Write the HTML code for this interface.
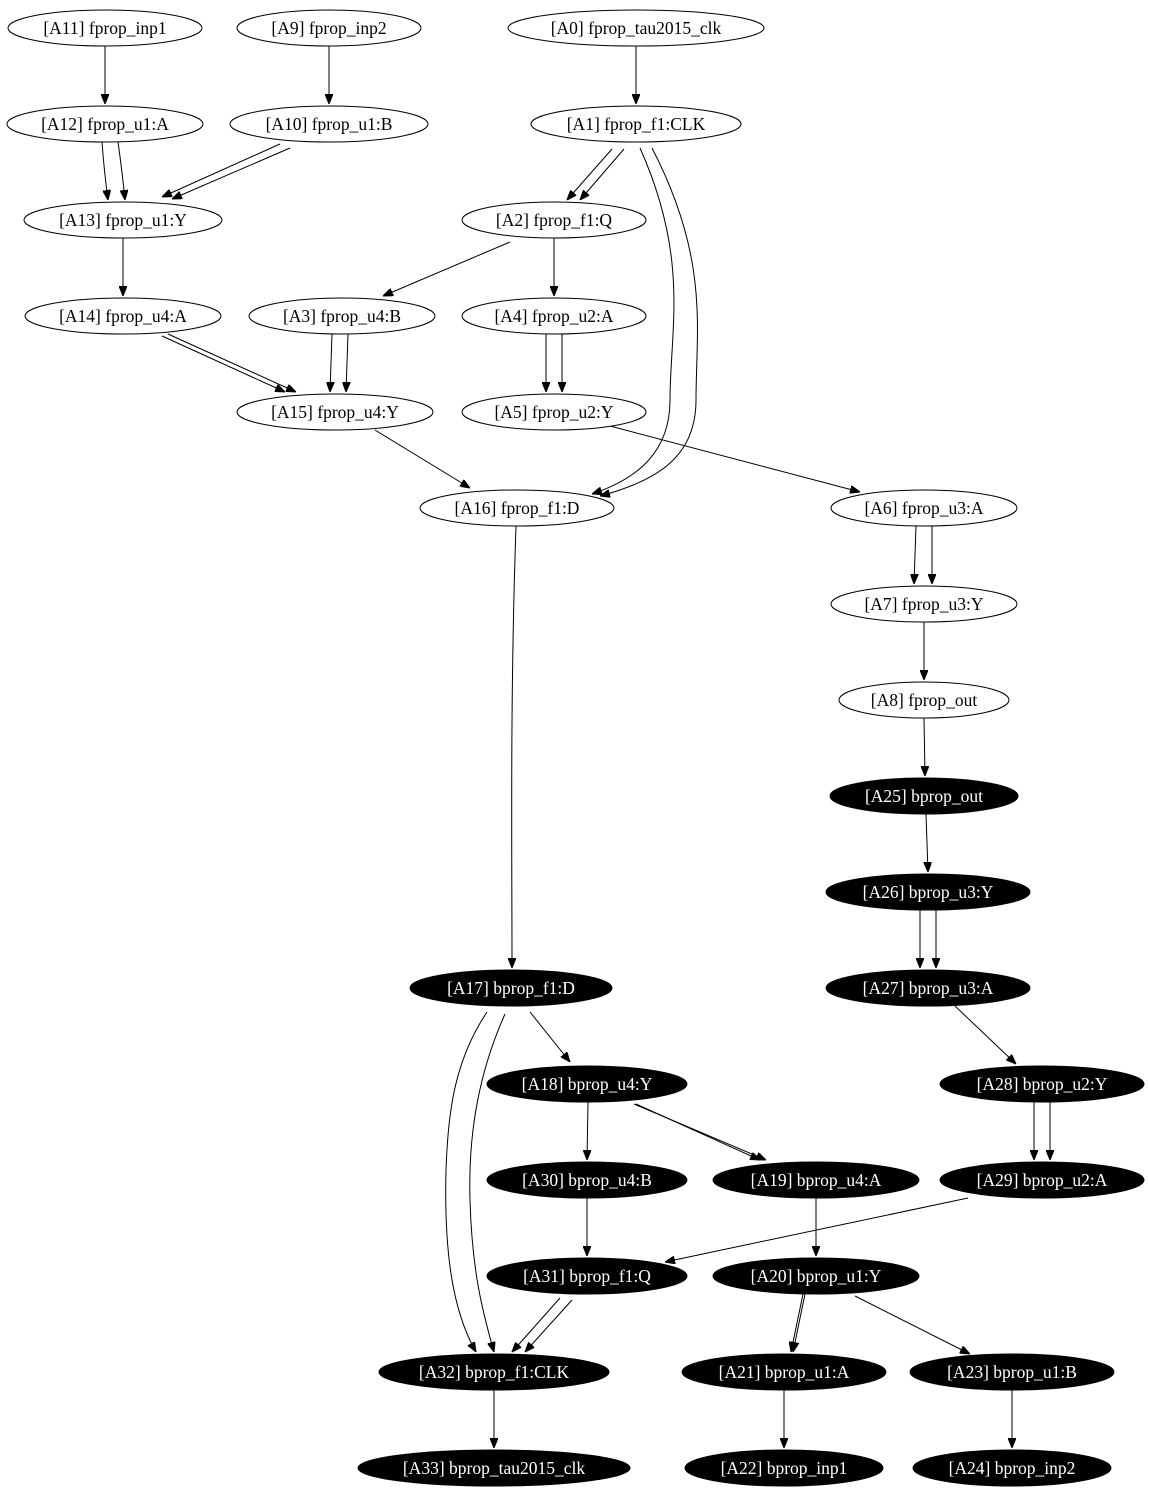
<!DOCTYPE html>
<html><head><meta charset="utf-8"><style>
html,body{margin:0;padding:0;background:#fff;}
svg{display:block;}
text{font-family:"Liberation Serif",serif;font-size:17.5px;text-anchor:middle;}
.w ellipse{fill:#fff;stroke:#000;stroke-width:1;}
.b ellipse{fill:#000;stroke:#000;}
.b text{fill:#fff;}
path{fill:none;stroke:#000;stroke-width:1;}
</style></head><body>
<svg width="1149" height="1499" viewBox="0 0 1149 1499">
<defs><marker id="a" markerWidth="10" markerHeight="8" refX="10" refY="4" orient="auto" markerUnits="userSpaceOnUse"><path d="M0,0 L10,4 L0,8 Z" style="fill:#000;stroke:#000"/></marker></defs>
<g marker-end="url(#a)">
<path d="M105,46 L105,104"/>
<path d="M329,46 L329,104"/>
<path d="M636,46 L636,104"/>
<path d="M102,142 Q104,170 108,200"/>
<path d="M118,142 Q122,170 125,200"/>
<path d="M290,148 L172,199"/>
<path d="M280,144 L162,197"/>
<path d="M612,149 L567,200"/>
<path d="M624,149 L580,200"/>
<path d="M640,148 C690,260 670,330 670,400 C670,450 640,478 592,494"/>
<path d="M652,148 C710,260 696,330 696,400 C696,455 660,480 600,496"/>
<path d="M123,238 L123,296"/>
<path d="M510,242 L383,296"/>
<path d="M554,238 L554,296"/>
<path d="M162,336 L285,392"/>
<path d="M168,334 L296,392"/>
<path d="M332,334 L330,392"/>
<path d="M348,334 L346,392"/>
<path d="M546,334 L546,392"/>
<path d="M562,334 L562,392"/>
<path d="M375,430 L470,488"/>
<path d="M610,426 L860,492"/>
<path d="M916,526 L914,584"/>
<path d="M932,526 L932,584"/>
<path d="M924,622 L924,680"/>
<path d="M924,718 L925,776"/>
<path d="M926,814 L928,872"/>
<path d="M920,910 L920,968"/>
<path d="M936,910 L936,968"/>
<path d="M955,1006 L1016,1064"/>
<path d="M1034,1102 L1034,1160"/>
<path d="M1050,1102 L1050,1160"/>
<path d="M516,526 C510,700 512,850 512,968"/>
<path d="M530,1012 L570,1062"/>
<path d="M487,1012 C455,1060 448,1110 446,1170 C444,1250 452,1310 476,1352"/>
<path d="M505,1014 C480,1070 468,1130 470,1200 C472,1270 482,1310 494,1352"/>
<path d="M588,1102 L587,1160"/>
<path d="M634,1104 L766,1160"/>
<path d="M636,1104 L760,1160"/>
<path d="M587,1198 L587,1256"/>
<path d="M816,1198 L816,1256"/>
<path d="M968,1198 L665,1262"/>
<path d="M560,1298 L512,1352"/>
<path d="M572,1300 L525,1352"/>
<path d="M805,1294 L793,1352"/>
<path d="M803,1294 L791,1352"/>
<path d="M855,1296 L970,1354"/>
<path d="M494,1390 L494,1448"/>
<path d="M784,1390 L784,1448"/>
<path d="M1012,1390 L1012,1448"/>
</g>
<g class="w">
<ellipse cx="105" cy="28" rx="97" ry="18"/><text x="105" y="34">[A11] fprop_inp1</text>
<ellipse cx="329" cy="28" rx="92" ry="18"/><text x="329" y="34">[A9] fprop_inp2</text>
<ellipse cx="636" cy="28" rx="128" ry="18"/><text x="636" y="34">[A0] fprop_tau2015_clk</text>
<ellipse cx="105" cy="124" rx="98" ry="18"/><text x="105" y="130">[A12] fprop_u1:A</text>
<ellipse cx="329" cy="124" rx="99" ry="18"/><text x="329" y="130">[A10] fprop_u1:B</text>
<ellipse cx="636" cy="124" rx="105" ry="18"/><text x="636" y="130">[A1] fprop_f1:CLK</text>
<ellipse cx="123" cy="220" rx="99" ry="18"/><text x="123" y="226">[A13] fprop_u1:Y</text>
<ellipse cx="554" cy="220" rx="92" ry="18"/><text x="554" y="226">[A2] fprop_f1:Q</text>
<ellipse cx="123" cy="316" rx="98" ry="18"/><text x="123" y="322">[A14] fprop_u4:A</text>
<ellipse cx="342" cy="316" rx="93" ry="18"/><text x="342" y="322">[A3] fprop_u4:B</text>
<ellipse cx="554" cy="316" rx="92" ry="18"/><text x="554" y="322">[A4] fprop_u2:A</text>
<ellipse cx="335" cy="412" rx="98" ry="18"/><text x="335" y="418">[A15] fprop_u4:Y</text>
<ellipse cx="554" cy="412" rx="92" ry="18"/><text x="554" y="418">[A5] fprop_u2:Y</text>
<ellipse cx="517" cy="508" rx="97" ry="18"/><text x="517" y="514">[A16] fprop_f1:D</text>
<ellipse cx="924" cy="508" rx="93" ry="18"/><text x="924" y="514">[A6] fprop_u3:A</text>
<ellipse cx="924" cy="604" rx="93" ry="18"/><text x="924" y="610">[A7] fprop_u3:Y</text>
<ellipse cx="924" cy="700" rx="85" ry="18"/><text x="924" y="706">[A8] fprop_out</text>
</g>
<g class="b">
<ellipse cx="924" cy="796" rx="94" ry="18"/><text x="924" y="802">[A25] bprop_out</text>
<ellipse cx="928" cy="892" rx="102" ry="18"/><text x="928" y="898">[A26] bprop_u3:Y</text>
<ellipse cx="928" cy="988" rx="102" ry="18"/><text x="928" y="994">[A27] bprop_u3:A</text>
<ellipse cx="511" cy="988" rx="101" ry="18"/><text x="511" y="994">[A17] bprop_f1:D</text>
<ellipse cx="1042" cy="1084" rx="102" ry="18"/><text x="1042" y="1090">[A28] bprop_u2:Y</text>
<ellipse cx="587" cy="1084" rx="100" ry="18"/><text x="587" y="1090">[A18] bprop_u4:Y</text>
<ellipse cx="587" cy="1180" rx="100" ry="18"/><text x="587" y="1186">[A30] bprop_u4:B</text>
<ellipse cx="816" cy="1180" rx="103" ry="18"/><text x="816" y="1186">[A19] bprop_u4:A</text>
<ellipse cx="1042" cy="1180" rx="102" ry="18"/><text x="1042" y="1186">[A29] bprop_u2:A</text>
<ellipse cx="587" cy="1276" rx="100" ry="18"/><text x="587" y="1282">[A31] bprop_f1:Q</text>
<ellipse cx="816" cy="1276" rx="103" ry="18"/><text x="816" y="1282">[A20] bprop_u1:Y</text>
<ellipse cx="494" cy="1372" rx="115" ry="18"/><text x="494" y="1378">[A32] bprop_f1:CLK</text>
<ellipse cx="784" cy="1372" rx="102" ry="18"/><text x="784" y="1378">[A21] bprop_u1:A</text>
<ellipse cx="1012" cy="1372" rx="102" ry="18"/><text x="1012" y="1378">[A23] bprop_u1:B</text>
<ellipse cx="494" cy="1468" rx="136" ry="18"/><text x="494" y="1474">[A33] bprop_tau2015_clk</text>
<ellipse cx="784" cy="1468" rx="99" ry="18"/><text x="784" y="1474">[A22] bprop_inp1</text>
<ellipse cx="1012" cy="1468" rx="99" ry="18"/><text x="1012" y="1474">[A24] bprop_inp2</text>
</g>
</svg>
</body></html>
